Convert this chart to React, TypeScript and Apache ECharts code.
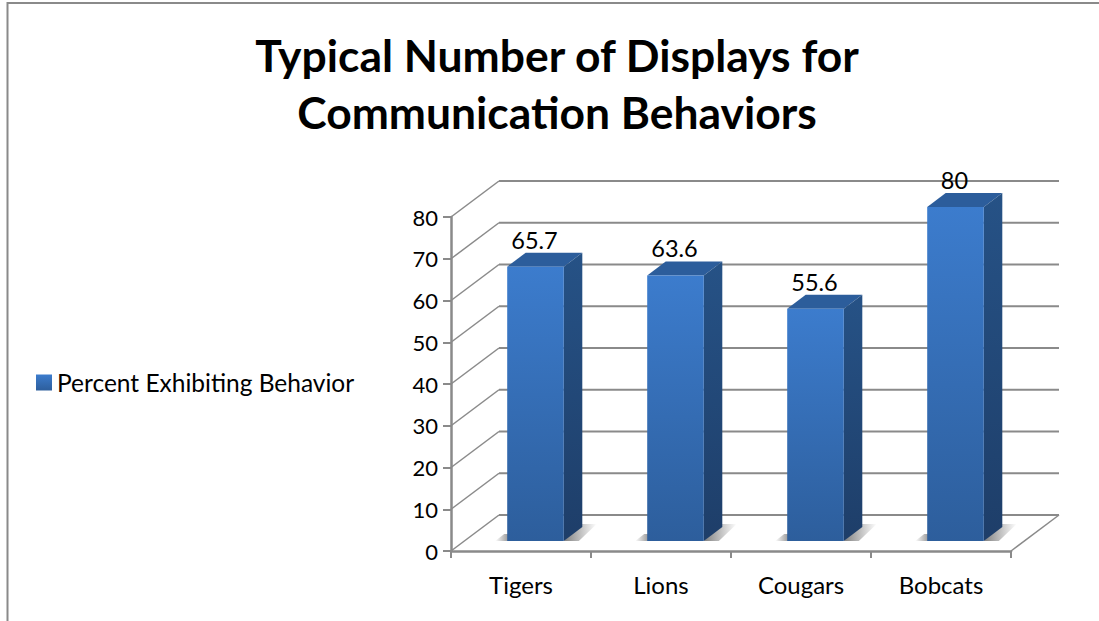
import React, { useEffect, useRef } from "react";
import * as echarts from "echarts";

const titleText = "Typical Number of Displays for\nCommunication Behaviors";
const seriesName = "Percent Exhibiting Behavior";
const categories = ["Tigers", "Lions", "Cougars", "Bobcats"];
const values = [65.7, 63.6, 55.6, 80];
const gridValues = [0, 10, 20, 30, 40, 50, 60, 70, 80];

const FONT = "Lato, 'Open Sans', sans-serif";
const GRAY = "#8a8a8a";

// 3D projection (px)
const WALL_DX = 48;
const WALL_DY = -36;
const BAR_SHIFT_X = 14.5;
const BAR_SHIFT_Y = -10;
const BAR_W = 56.6;
const DEPTH_DX = 18.5;
const DEPTH_DY = -14;

const vGrad = (a: string, b: string) =>
  new echarts.graphic.LinearGradient(0, 0, 0, 1, [
    { offset: 0, color: a },
    { offset: 1, color: b },
  ]);
const hGrad = (a: string, b: string) =>
  new echarts.graphic.LinearGradient(0, 0, 1, 0, [
    { offset: 0, color: a },
    { offset: 1, color: b },
  ]);

function renderWall(params: any, api: any) {
  const v = api.value(0);
  const cs = params.coordSys;
  const p = api.coord([0, v]);
  const y = p[1];
  const left = cs.x;
  const right = cs.x + cs.width;
  const children: any[] = [
    {
      type: "line",
      shape: { x1: left, y1: y, x2: left + WALL_DX, y2: y + WALL_DY },
      style: { stroke: GRAY, lineWidth: 1.5 },
    },
    {
      type: "line",
      shape: { x1: left + WALL_DX, y1: y + WALL_DY, x2: right + WALL_DX, y2: y + WALL_DY },
      style: { stroke: GRAY, lineWidth: 1.8 },
    },
  ];
  if (v === 0) {
    children.push({
      type: "line",
      shape: { x1: right, y1: y, x2: right + WALL_DX, y2: y + WALL_DY },
      style: { stroke: GRAY, lineWidth: 1.5 },
    });
  }
  return { type: "group", children };
}

function renderBar(_params: any, api: any) {
  const top = api.coord([api.value(0), api.value(1)]);
  const base = api.coord([api.value(0), 0]);
  const band = api.size([1, 0])[0];
  const bandLeft = top[0] - band / 2;
  const x0 = bandLeft + (band - BAR_W) / 2 + BAR_SHIFT_X;
  const x1 = x0 + BAR_W;
  const yB = base[1] + BAR_SHIFT_Y;
  const yT = top[1] + BAR_SHIFT_Y;
  const dx = DEPTH_DX;
  const dy = DEPTH_DY;
  return {
    type: "group",
    children: [
      {
        type: "polygon",
        shape: { points: [[x1, yB], [x1 + 15, yB], [x1 + 33, yB + dy - 3], [x1 + 16, yB + dy - 3]] },
        style: { fill: hGrad("#808080", "#ffffff") },
      },
      {
        type: "polygon",
        shape: { points: [[x0 - 12, yB], [x0 + 1, yB], [x0 + 1, yB - 7], [x0 - 3, yB - 7]] },
        style: { fill: hGrad("#ffffff", "#9a9a9a") },
      },
      {
        type: "polygon",
        shape: { points: [[x0, yT], [x1, yT], [x1 + dx, yT + dy], [x0 + dx, yT + dy]] },
        style: { fill: "#2c5d9b" },
      },
      {
        type: "polygon",
        shape: { points: [[x1, yT], [x1 + dx, yT + dy], [x1 + dx, yB + dy], [x1, yB]] },
        style: { fill: vGrad("#265286", "#1e3e69") },
      },
      {
        type: "rect",
        shape: { x: x0, y: yT, width: BAR_W, height: yB - yT },
        style: { fill: vGrad("#3c7ccd", "#2d5e9c") },
      },
      {
        type: "text",
        style: {
          x: (x0 + x1) / 2 - 1,
          y: yT - 27,
          text: String(api.value(1)),
          fill: "#000",
          font: `23.5px ${FONT}`,
          align: "center",
          verticalAlign: "middle",
        },
      },
    ],
  };
}

export default function App() {
  const ref = useRef<HTMLDivElement>(null);
  useEffect(() => {
    const chart = echarts.init(ref.current!, undefined, { renderer: "svg" });
    chart.setOption({
      animation: false,
      backgroundColor: "#fff",
      title: {
        text: titleText,
        left: 552,
        top: 21,
        textAlign: "center",
        textStyle: { fontFamily: FONT, fontSize: 44.4, fontWeight: "bold", color: "#000", lineHeight: 57 },
      },
      legend: {
        data: [seriesName],
        left: 31,
        top: 365,
        icon: "rect",
        itemWidth: 16,
        itemHeight: 16,
        itemGap: 5,
        textStyle: { fontFamily: FONT, fontSize: 24.5, color: "#000" },
      },
      grid: { left: 451, top: 217, width: 560, height: 334 },
      xAxis: {
        type: "category",
        data: categories,
        axisLine: { lineStyle: { color: GRAY, width: 2.5 } },
        axisTick: { show: true, length: 7, lineStyle: { color: GRAY, width: 2 } },
        axisLabel: { color: "#000", fontFamily: FONT, fontSize: 24, margin: 21 },
      },
      yAxis: {
        type: "value",
        min: 0,
        max: 80,
        interval: 10,
        axisLine: { show: true, lineStyle: { color: GRAY, width: 2.5 } },
        axisTick: { show: true, length: 8, lineStyle: { color: GRAY, width: 2 } },
        splitLine: { show: false },
        axisLabel: { color: "#000", fontFamily: FONT, fontSize: 22, margin: 13, padding: [0, 0, 6, 0] },
      },
      graphic: [
        {
          type: "polyline",
          shape: { points: [[7.5, 621], [7.5, 3], [1099, 3]] },
          style: { stroke: GRAY, lineWidth: 2, fill: "none" },
          silent: true,
        },
      ],
      series: [
        {
          type: "custom",
          coordinateSystem: "cartesian2d",
          data: gridValues.map((v) => [v]),
          encode: { y: 0 },
          renderItem: renderWall,
          silent: true,
          z: 1,
        },
        {
          name: seriesName,
          type: "custom",
          coordinateSystem: "cartesian2d",
          data: values.map((v, i) => [i, v]),
          encode: { x: 0, y: 1 },
          renderItem: renderBar,
          itemStyle: { color: vGrad("#3c7ccd", "#2d5e9c") },
          z: 3,
        },
      ],
    });
    return () => chart.dispose();
  }, []);
  return (
    <div
      ref={ref}
      style={{ position: "absolute", left: 0, top: 0, width: 1099, height: 621 }}
    />
  );
}
